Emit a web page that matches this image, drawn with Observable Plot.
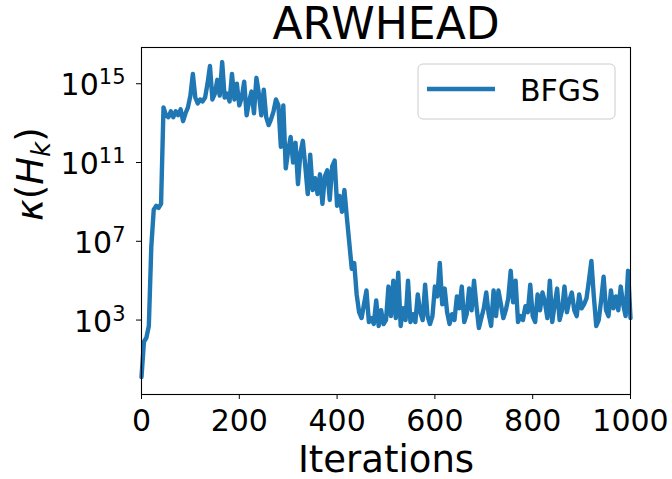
<!DOCTYPE html>
<html><head><meta charset="utf-8">
<script src="https://cdn.jsdelivr.net/npm/d3@7"></script>
<script src="https://cdn.jsdelivr.net/npm/@observablehq/plot@0.6"></script>
<style>
body{margin:0;background:#fff;}
#chart{width:672px;height:479px;}
</style></head><body><div id="chart"></div>
<script>
const title = "ARWHEAD";
const seriesName = "BFGS";
const xLabel = "Iterations";
const yLabel = "κ(Hk)";
const iterStep = 5;
// log10 of kappa(H_k), one value every 5 iterations
const log10Kappa = [
  0.1,1.9,2.1,2.7,6.7,8.6,8.8,8.7,8.9,13.8,
  13.4,13.3,13.6,13.3,13.6,13.4,13.7,13.1,13.5,13.8,
  14.4,15.5,14.3,14.0,14.2,14.1,14.3,15.0,15.9,14.2,
  14.5,15.2,14.4,16.1,14.3,14.5,14.1,15.5,14.2,15.0,
  13.9,14.3,15.1,13.4,14.1,14.6,13.5,15.3,14.5,13.4,
  14.7,13.3,12.9,13.2,13.6,14.2,13.9,11.8,13.9,10.7,
  11.6,12.3,11.0,12.0,9.9,11.5,12.1,10.8,9.4,11.4,
  9.6,10.2,9.4,10.4,8.9,10.3,10.6,9.1,10.8,11.1,
  8.8,9.3,8.5,9.6,8.2,6.9,5.6,5.9,4.3,3.4,
  3.1,3.8,4.5,2.9,3.1,2.8,4.0,2.7,3.5,2.8,
  3.0,4.7,3.2,5.0,3.1,5.4,2.7,3.6,3.0,5.0,
  2.9,3.3,2.9,4.3,3.4,3.0,4.8,3.2,2.8,3.2,
  4.7,4.2,5.9,3.8,4.6,3.4,2.8,3.3,3.0,4.2,
  3.6,4.7,2.9,3.3,4.6,3.5,5.0,3.7,2.6,3.1,
  3.6,4.4,3.3,2.7,4.5,3.2,4.5,3.8,3.1,3.5,
  4.1,5.5,3.9,5.0,2.9,3.2,3.0,3.7,3.4,4.8,
  3.2,2.9,4.3,3.5,4.4,3.9,3.1,5.0,2.9,3.8,
  4.6,3.0,3.5,4.7,3.4,4.0,4.4,3.5,3.2,4.3,
  3.6,3.8,4.1,5.0,6.0,4.2,2.7,3.0,4.0,5.2,
  3.5,3.2,4.5,3.6,4.2,3.5,4.7,3.8,3.2,5.5,
  3.1
];
const xTicks = [0, 200, 400, 600, 800, 1000];
const yTickExponents = [3, 7, 11, 15];
const blue = "#1f77b4";

const data = log10Kappa.map((e, i) => ({iter: i * iterStep, kappa: Math.pow(10, e)}));

const svg = Plot.plot({
  width: 672, height: 479,
  marginLeft: 141, marginRight: 42, marginTop: 47, marginBottom: 85,
  style: {fontFamily: '"DejaVu Sans", sans-serif', fontSize: "30px", background: "white", color: "black", overflow: "visible"},
  x: {domain: [0, 1000]},
  y: {type: "log", domain: [Math.pow(10, -0.78), Math.pow(10, 16.84)]},
  marks: [
    Plot.line(data, {x: "iter", y: "kappa", stroke: blue, strokeWidth: 4.4, strokeLinejoin: "round", strokeLinecap: "round"}),
    Plot.frame({stroke: "black", strokeWidth: 1.1}),
    Plot.axisX({ticks: xTicks, tickSize: 5, tickPadding: 10, fontSize: 30, label: null, tickFormat: d => String(d)}),
    Plot.axisY({ticks: yTickExponents.map(e => Math.pow(10, e)), tickSize: 5, tickPadding: 11, fontSize: 30, label: null,
      tickFormat: d => String(Math.round(Math.log10(d)))}),
    Plot.text([title], {text: d => d, frameAnchor: "top", lineAnchor: "bottom", dy: -9, fontSize: 44}),
    Plot.text([xLabel], {text: d => d, frameAnchor: "bottom", lineAnchor: "bottom", dy: 77, fontSize: 37}),
    Plot.text([yLabel], {text: d => d, frameAnchor: "left", lineAnchor: "bottom", dx: -99, rotate: -90, fontSize: 37})
  ]
});

// superscript exponents on y tick labels
d3.select(svg).selectAll('g[aria-label="y-axis tick label"] text').each(function() {
  const exp = this.textContent;
  const t = d3.select(this);
  t.text(null);
  t.append("tspan").attr("dy", 2).text("10");
  t.append("tspan").attr("dy", -11).attr("font-size", 21).text(exp);
});

// y label with italic symbols and subscript
d3.select(svg).selectAll("text").filter(function() { return this.textContent === yLabel; }).each(function() {
  const t = d3.select(this);
  t.text(null);
  t.append("tspan").attr("font-style", "italic").text("κ");
  t.append("tspan").text("(");
  t.append("tspan").attr("font-style", "italic").text("H");
  t.append("tspan").attr("font-style", "italic").attr("font-size", 26).attr("dy", 7).text("k");
  t.append("tspan").attr("dy", -7).text(")");
});

// legend
const lg = d3.select(svg).append("g").attr("aria-label", "legend");
lg.append("rect").attr("x", 418).attr("y", 64).attr("width", 197).attr("height", 55).attr("rx", 5)
  .attr("fill", "white").attr("fill-opacity", 0.8).attr("stroke", "#cccccc").attr("stroke-width", 1);
lg.append("line").attr("x1", 427).attr("x2", 495).attr("y1", 89).attr("y2", 89)
  .attr("stroke", blue).attr("stroke-width", 4.4);
lg.append("text").attr("x", 520).attr("y", 101).attr("font-size", 30).attr("text-anchor", "start")
  .attr("fill", "black").text(seriesName);

document.getElementById("chart").appendChild(svg);
</script></body></html>
